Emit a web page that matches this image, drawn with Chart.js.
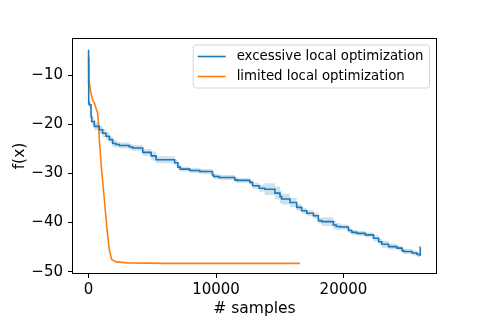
<!DOCTYPE html>
<html>
<head>
<meta charset="utf-8">
<script src="https://cdn.jsdelivr.net/npm/chart.js@4"></script>
<style>
  html, body { margin: 0; padding: 0; background: #fff; }
  #wrap { width: 485px; height: 323px; position: relative; }
</style>
</head>
<body>
<div id="wrap"><canvas id="chart"></canvas></div>
<script>
// excessive local optimization: step points (x = # samples, y = f(x)), band half-width
const blueX = [0, 10, 40, 190, 240, 450, 840, 1100, 1370, 1630, 1890, 2160, 2420, 3200, 3460, 4250, 4910, 5300,
  6750, 7010, 7200, 7930, 8720, 9720, 9820, 10240, 11470, 11650, 12650, 12870, 13390, 13830, 14620, 15020, 15150,
  15800, 16330, 16720, 17120, 17640, 18030, 18300, 19210, 19430, 19740, 20390, 20660, 21060, 21710, 22360, 22760,
  23020, 23540, 24200, 24600, 24720, 25390, 25780, 25980, 26030, 26040];
const blueY = [-4.8, -11.6, -15.6, -16.0, -18.4, -19.4, -20.4, -21.1, -21.8, -22.4, -23.1, -23.9, -24.1, -24.3, -24.6,
  -24.8, -25.7, -26.4, -27.2, -27.8, -28.7, -29.1, -29.4, -29.6, -30.3, -30.6, -30.8, -31.3, -31.4, -31.8, -32.5,
  -33.0, -33.2, -34.0, -34.7, -35.2, -35.9, -36.9, -37.6, -38.1, -38.6, -39.6, -39.8, -40.5, -40.8, -40.9, -41.6,
  -42.0, -42.2, -42.5, -43.2, -43.9, -44.4, -44.9, -45.2, -45.7, -45.9, -46.2, -46.5, -46.6, -45.0];
const blueSpread = [0.4, 0.7, 0.7, 0.7, 0.7, 0.8, 0.8, 0.8, 0.8, 0.8, 0.7, 0.7, 0.6, 0.6, 0.6, 0.6, 0.7, 0.9,
  0.7, 0.6, 0.6, 0.5, 0.5, 0.5, 0.5, 0.5, 0.5, 0.5, 0.5, 0.5, 0.6, 0.7, 1.2, 1.3, 1.3,
  1.1, 0.9, 0.7, 0.6, 0.6, 0.6, 0.6, 0.9, 0.9, 0.7, 0.5, 0.5, 0.5, 0.5, 0.5, 0.6,
  0.6, 0.7, 0.6, 0.5, 0.5, 0.5, 0.5, 0.5, 0.4, 0.3];

// limited local optimization
const orangeX = [0, 30, 130, 315, 450, 580, 710, 790, 840, 1020, 1240, 1450, 1630, 1810, 2160, 3070, 6000, 10000, 16590];
const orangeY = [-6.4, -10.9, -12.9, -15.0, -15.6, -16.7, -17.7, -20.4, -23.1, -29.2, -35.4, -41.5, -45.6, -47.5,
  -48.0, -48.2, -48.3, -48.3, -48.3];

const seriesNames = ["excessive local optimization", "limited local optimization"];
const xTicks = [0, 10000, 20000];
const yTicks = [-10, -20, -30, -40, -50];

const BLUE = "#1f77b4";
const ORANGE = "#ff7f0e";
const FONT = "'DejaVu Sans', sans-serif";

const pts = (xs, ys) => xs.map((x, i) => ({ x: x, y: ys[i] }));

// frame (all four spines) + matplotlib-style legend box
const framePlugin = {
  id: "frame",
  afterDraw(chart) {
    const { ctx, chartArea: a } = chart;
    ctx.save();
    ctx.strokeStyle = "#000";
    ctx.lineWidth = 1;
    ctx.strokeRect(a.left + 0.5, a.top + 0.5, a.right - a.left - 1, a.bottom - a.top - 1);

    // legend
    const items = [
      { label: seriesNames[0], color: BLUE },
      { label: seriesNames[1], color: ORANGE }
    ];
    ctx.font = "13.3px " + FONT;
    const textW = Math.max(...items.map(it => ctx.measureText(it.label).width));
    const w = 4.5 + 28 + 11 + textW + 6;
    const h = 43;
    const x0 = a.right - 7.5 - w;
    const y0 = a.top + 7;
    ctx.beginPath();
    ctx.roundRect(x0, y0, w, h, 3);
    ctx.fillStyle = "rgba(255,255,255,0.8)";
    ctx.fill();
    ctx.strokeStyle = "#d6d6d6";
    ctx.stroke();
    items.forEach((it, i) => {
      const cy = y0 + 11.5 + i * 20;
      ctx.beginPath();
      ctx.moveTo(x0 + 4.5, cy);
      ctx.lineTo(x0 + 32.5, cy);
      ctx.strokeStyle = it.color;
      ctx.lineWidth = 1.6;
      ctx.stroke();
      ctx.fillStyle = "#000";
      ctx.textBaseline = "middle";
      ctx.textAlign = "left";
      ctx.fillText(it.label, x0 + 43.5, cy);
    });
    ctx.restore();
  }
};

new Chart(document.getElementById("chart"), {
  type: "scatter",
  data: {
    datasets: [
      {
        label: "band-low",
        data: pts(blueX, blueY.map((v, i) => v - blueSpread[i])),
        showLine: true, stepped: "after", pointRadius: 0,
        borderWidth: 0, borderColor: "rgba(0,0,0,0)", fill: false
      },
      {
        label: "band-high",
        data: pts(blueX, blueY.map((v, i) => v + blueSpread[i])),
        showLine: true, stepped: "after", pointRadius: 0,
        borderWidth: 0, borderColor: "rgba(0,0,0,0)",
        backgroundColor: "rgba(31,119,180,0.22)", fill: "-1"
      },
      {
        label: seriesNames[0],
        data: pts(blueX, blueY),
        showLine: true, stepped: "after", pointRadius: 0,
        borderColor: BLUE, borderWidth: 1.6, fill: false
      },
      {
        label: seriesNames[1],
        data: pts(orangeX, orangeY),
        showLine: true, pointRadius: 0, tension: 0,
        borderColor: ORANGE, borderWidth: 1.6, fill: false
      }
    ]
  },
  options: {
    responsive: true,
    maintainAspectRatio: false,
    animation: false,
    layout: { padding: { left: 0, right: 48, top: 38, bottom: 0 } },
    plugins: {
      legend: { display: false },
      tooltip: { enabled: false }
    },
    scales: {
      x: {
        type: "linear",
        min: -1302,
        max: 27342,
        afterFit: (s) => { s.height = 49; },
        afterBuildTicks: (s) => { s.ticks = xTicks.map(v => ({ value: v })); },
        grid: { display: true, drawOnChartArea: false, drawTicks: true, tickLength: 4, color: "#000" },
        border: { display: false },
        ticks: { color: "#000", padding: 3, maxRotation: 0, font: { family: FONT, size: 15 }, callback: (v) => String(v) },
        title: { display: true, text: "# samples", color: "#000", font: { family: FONT, size: 15.5 }, padding: { top: 0, bottom: 5 } }
      },
      y: {
        type: "linear",
        min: -50.47,
        max: -2.4,
        afterFit: (s) => { s.width = 72; },
        afterBuildTicks: (s) => { s.ticks = yTicks.map(v => ({ value: v })); },
        grid: { display: true, drawOnChartArea: false, drawTicks: true, tickLength: 4, color: "#000" },
        border: { display: false },
        ticks: { color: "#000", padding: 5, font: { family: FONT, size: 15 }, callback: (v) => String(v).replace("-", "\u2212") },
        title: { display: true, text: "f(x)", color: "#000", font: { family: FONT, size: 15.5 }, padding: { top: 11, bottom: 0 } }
      }
    }
  },
  plugins: [framePlugin]
});
</script>
</body>
</html>
